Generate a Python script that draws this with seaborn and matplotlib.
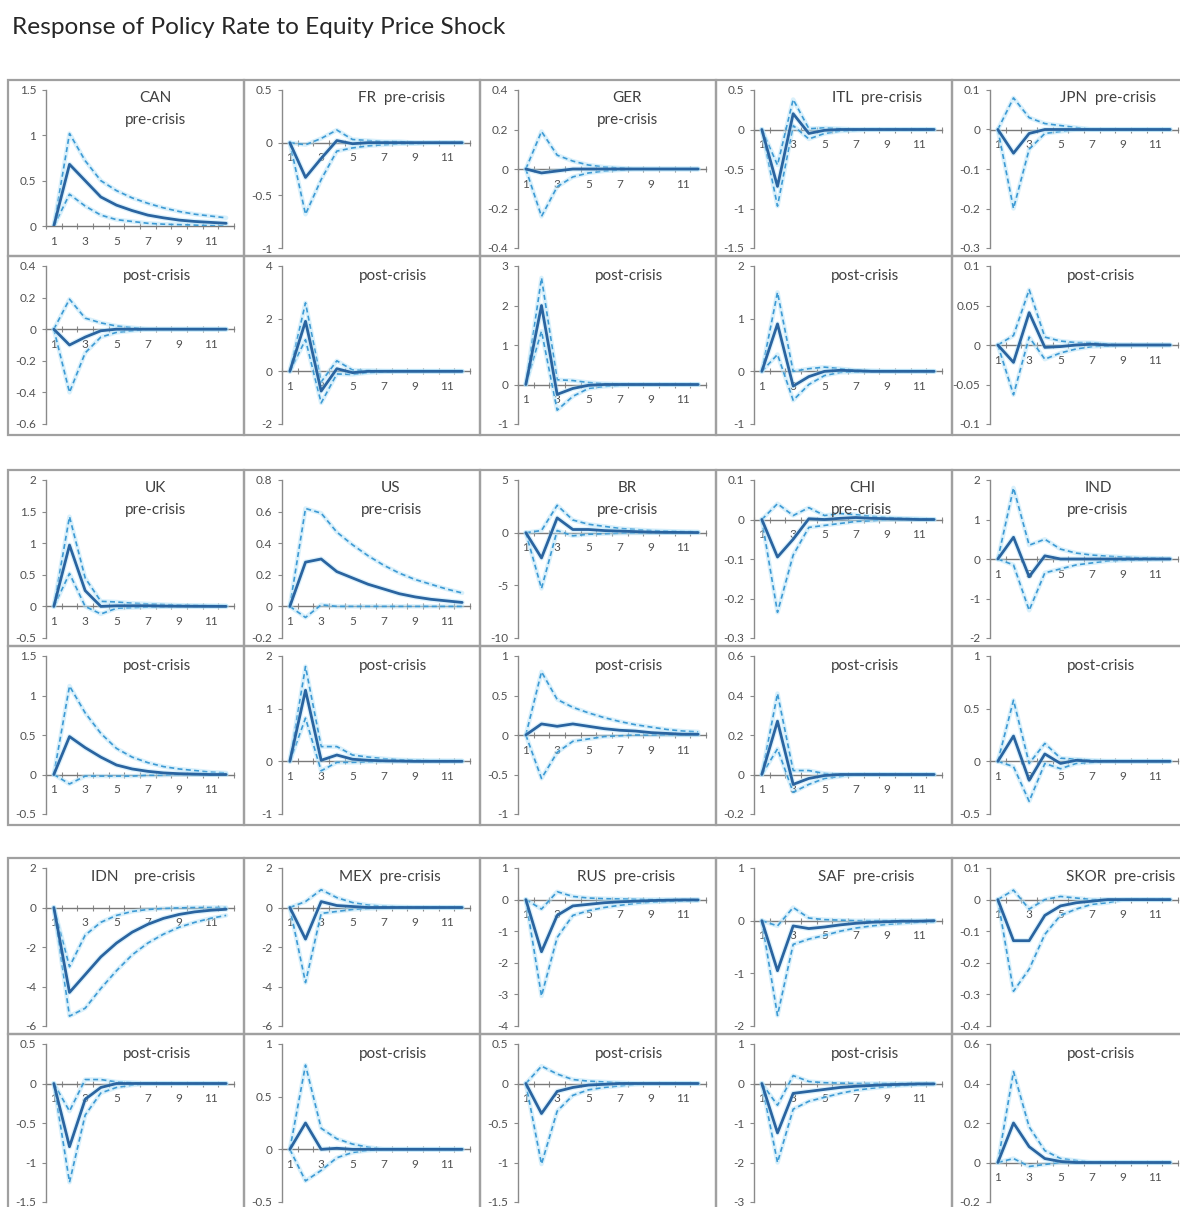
import matplotlib
matplotlib.use("Agg")
import matplotlib.pyplot as plt
import seaborn as sns
import pandas as pd
from matplotlib.patches import Rectangle
from matplotlib.ticker import FixedLocator, FuncFormatter

# ---------------------------------------------------------------------------
# Data: impulse responses of the policy rate (point estimate and bands)
# ---------------------------------------------------------------------------
periods = list(range(1, 13))
tick_periods = [1, 3, 5, 7, 9, 11]
tick_labels = ["1", "3", "5", "7", "9", "11"]

CAN_pre = dict(irf=[0, 0.68, 0.50, 0.32, 0.23, 0.17, 0.12, 0.09, 0.065, 0.05, 0.04, 0.03],
               lo=[0, 0.35, 0.22, 0.12, 0.07, 0.05, 0.03, 0.02, 0.015, 0.01, 0.005, 0.0],
               hi=[0, 1.02, 0.72, 0.50, 0.39, 0.31, 0.25, 0.20, 0.16, 0.13, 0.11, 0.09])
FR_pre = dict(irf=[0, -0.33, -0.15, 0.02, -0.01, 0, 0, 0, 0, 0, 0, 0],
              lo=[0, -0.68, -0.35, -0.08, -0.05, -0.03, -0.02, -0.01, -0.01, 0, 0, 0],
              hi=[0, -0.02, 0.04, 0.12, 0.03, 0.02, 0.01, 0.01, 0, 0, 0, 0])
GER_pre = dict(irf=[0, -0.02, -0.01, 0, 0, 0, 0, 0, 0, 0, 0, 0],
               lo=[0, -0.24, -0.09, -0.04, -0.02, -0.01, -0.005, 0, 0, 0, 0, 0],
               hi=[0, 0.19, 0.07, 0.04, 0.02, 0.01, 0.005, 0, 0, 0, 0, 0])
ITL_pre = dict(irf=[0, -0.72, 0.20, -0.05, -0.01, 0, 0, 0, 0, 0, 0, 0],
               lo=[0, -0.97, 0.05, -0.12, -0.05, -0.02, -0.01, 0, 0, 0, 0, 0],
               hi=[0, -0.45, 0.38, 0.01, 0.02, 0.01, 0, 0, 0, 0, 0, 0])
JPN_pre = dict(irf=[0, -0.06, -0.01, 0, 0, 0, 0, 0, 0, 0, 0, 0],
               lo=[0, -0.20, -0.05, -0.01, -0.005, 0, 0, 0, 0, 0, 0, 0],
               hi=[0, 0.08, 0.03, 0.015, 0.01, 0.005, 0, 0, 0, 0, 0, 0])

CAN_post = dict(irf=[0, -0.10, -0.05, -0.01, 0, 0, 0, 0, 0, 0, 0, 0],
                lo=[0, -0.40, -0.15, -0.05, -0.02, -0.01, 0, 0, 0, 0, 0, 0],
                hi=[0, 0.19, 0.07, 0.04, 0.02, 0.01, 0, 0, 0, 0, 0, 0])
FR_post = dict(irf=[0, 1.9, -0.75, 0.1, -0.05, 0, 0, 0, 0, 0, 0, 0],
               lo=[0, 1.2, -1.2, -0.1, -0.12, -0.05, -0.02, 0, 0, 0, 0, 0],
               hi=[0, 2.6, -0.4, 0.4, 0.05, 0.03, 0.01, 0, 0, 0, 0, 0])
GER_post = dict(irf=[0, 2.0, -0.25, -0.1, -0.02, 0, 0, 0, 0, 0, 0, 0],
                lo=[0, 1.35, -0.65, -0.3, -0.1, -0.05, -0.02, 0, 0, 0, 0, 0],
                hi=[0, 2.7, 0.12, 0.1, 0.05, 0.02, 0.01, 0, 0, 0, 0, 0])
ITL_post = dict(irf=[0, 0.9, -0.28, -0.1, 0.0, 0.02, 0.01, 0, 0, 0, 0, 0],
                lo=[0, 0.32, -0.55, -0.25, -0.08, -0.02, -0.01, 0, 0, 0, 0, 0],
                hi=[0, 1.5, 0.0, 0.05, 0.08, 0.05, 0.02, 0.01, 0, 0, 0, 0])
JPN_post = dict(irf=[0, -0.022, 0.041, -0.003, -0.002, 0, 0.001, 0, 0, 0, 0, 0],
                lo=[0, -0.063, 0.01, -0.018, -0.01, -0.005, -0.002, -0.001, 0, 0, 0, 0],
                hi=[0, 0.012, 0.07, 0.01, 0.005, 0.003, 0.003, 0.001, 0, 0, 0, 0])

UK_pre = dict(irf=[0, 0.97, 0.25, 0.0, 0.01, 0.01, 0.01, 0.005, 0.003, 0.002, 0.001, 0],
              lo=[0, 0.52, 0.0, -0.12, -0.03, -0.02, -0.01, -0.005, 0, 0, 0, 0],
              hi=[0, 1.42, 0.45, 0.08, 0.07, 0.05, 0.04, 0.03, 0.02, 0.015, 0.01, 0.01])
US_pre = dict(irf=[0, 0.28, 0.30, 0.22, 0.18, 0.14, 0.11, 0.08, 0.06, 0.045, 0.035, 0.025],
              lo=[0, -0.07, 0.01, 0.0, 0.0, 0, 0, 0, 0, 0, 0, 0],
              hi=[0, 0.62, 0.59, 0.47, 0.39, 0.32, 0.26, 0.21, 0.17, 0.14, 0.11, 0.085])
BR_pre = dict(irf=[0, -2.4, 1.4, 0.3, 0.3, 0.2, 0.15, 0.1, 0.05, 0.03, 0.02, 0.01],
              lo=[0, -5.3, 0.2, -0.3, -0.15, -0.1, -0.05, -0.03, -0.02, -0.01, 0, 0],
              hi=[0, 0.2, 2.6, 1.2, 0.8, 0.6, 0.4, 0.3, 0.2, 0.15, 0.1, 0.08])
CHI_pre = dict(irf=[0, -0.095, -0.05, 0.002, 0.0, 0.003, 0.005, 0.003, 0.002, 0.001, 0, 0],
               lo=[0, -0.235, -0.09, -0.02, -0.015, -0.01, -0.005, -0.003, 0, 0, 0, 0],
               hi=[0, 0.04, 0.01, 0.03, 0.01, 0.015, 0.012, 0.008, 0.005, 0.003, 0.002, 0])
IND_pre = dict(irf=[0, 0.55, -0.45, 0.08, 0.0, 0, 0, 0, 0, 0, 0, 0],
               lo=[0, -0.15, -1.3, -0.35, -0.25, -0.15, -0.1, -0.05, -0.03, -0.02, -0.01, 0],
               hi=[0, 1.8, 0.35, 0.5, 0.25, 0.15, 0.1, 0.07, 0.05, 0.03, 0.02, 0.01])

UK_post = dict(irf=[0, 0.48, 0.34, 0.22, 0.12, 0.07, 0.04, 0.02, 0.01, 0.005, 0, 0],
               lo=[0, -0.12, -0.02, -0.02, -0.02, -0.02, -0.01, -0.01, 0, 0, 0, 0],
               hi=[0, 1.12, 0.78, 0.52, 0.33, 0.22, 0.15, 0.1, 0.07, 0.05, 0.03, 0.02])
US_post = dict(irf=[0, 1.35, 0.02, 0.12, 0.04, 0.02, 0.01, 0.005, 0, 0, 0, 0],
               lo=[0, 0.82, -0.18, -0.02, -0.02, -0.01, 0, 0, 0, 0, 0, 0],
               hi=[0, 1.8, 0.28, 0.28, 0.12, 0.08, 0.05, 0.03, 0.02, 0.01, 0.01, 0.01])
BR_post = dict(irf=[0, 0.14, 0.11, 0.14, 0.11, 0.08, 0.06, 0.05, 0.03, 0.02, 0.01, 0.01],
               lo=[0, -0.55, -0.22, -0.08, -0.05, -0.02, -0.01, 0, 0, 0, 0, 0],
               hi=[0, 0.80, 0.45, 0.35, 0.28, 0.22, 0.17, 0.13, 0.10, 0.07, 0.05, 0.04])
CHI_post = dict(irf=[0, 0.27, -0.05, -0.02, -0.005, 0, 0, 0, 0, 0, 0, 0],
                lo=[0, 0.13, -0.09, -0.05, -0.02, -0.01, 0, 0, 0, 0, 0, 0],
                hi=[0, 0.41, 0.02, 0.02, 0.005, 0, 0, 0, 0, 0, 0, 0])
IND_post = dict(irf=[0, 0.24, -0.18, 0.07, -0.02, 0.01, 0, 0, 0, 0, 0, 0],
                lo=[0, -0.05, -0.38, -0.02, -0.07, -0.02, -0.01, 0, 0, 0, 0, 0],
                hi=[0, 0.58, -0.02, 0.17, 0.03, 0.02, 0.01, 0, 0, 0, 0, 0])

IDN_pre = dict(irf=[0, -4.3, -3.4, -2.5, -1.8, -1.25, -0.85, -0.55, -0.35, -0.22, -0.14, -0.09],
               lo=[0, -5.5, -5.1, -4.1, -3.2, -2.4, -1.8, -1.35, -1.0, -0.75, -0.55, -0.4],
               hi=[0, -3.0, -1.4, -0.75, -0.4, -0.2, -0.1, -0.05, -0.02, 0, 0, 0])
MEX_pre = dict(irf=[0, -1.6, 0.3, 0.1, 0.05, 0, 0, 0, 0, 0, 0, 0],
               lo=[0, -3.8, -0.3, -0.2, -0.1, -0.05, -0.02, 0, 0, 0, 0, 0],
               hi=[0, 0.3, 0.9, 0.5, 0.25, 0.12, 0.06, 0.03, 0.01, 0, 0, 0])
RUS_pre = dict(irf=[0, -1.65, -0.5, -0.2, -0.15, -0.1, -0.07, -0.05, -0.03, -0.02, -0.01, -0.01],
               lo=[0, -3.05, -1.2, -0.5, -0.35, -0.25, -0.18, -0.12, -0.08, -0.06, -0.04, -0.03],
               hi=[0, -0.3, 0.25, 0.1, 0.05, 0.03, 0.02, 0.01, 0, 0, 0, 0])
SAF_pre = dict(irf=[0, -0.95, -0.1, -0.15, -0.12, -0.08, -0.05, -0.03, -0.02, -0.01, -0.01, 0],
               lo=[0, -1.8, -0.45, -0.35, -0.28, -0.2, -0.14, -0.1, -0.07, -0.05, -0.03, -0.02],
               hi=[0, -0.1, 0.25, 0.05, 0.02, 0.01, 0, 0, 0, 0, 0, 0])
SKOR_pre = dict(irf=[0, -0.13, -0.13, -0.05, -0.02, -0.01, -0.005, 0, 0, 0, 0, 0],
                lo=[0, -0.29, -0.22, -0.11, -0.05, -0.03, -0.015, -0.01, 0, 0, 0, 0],
                hi=[0, 0.03, -0.03, 0.0, 0.01, 0.005, 0, 0, 0, 0, 0, 0])

IDN_post = dict(irf=[0, -0.8, -0.2, -0.05, 0, 0, 0, 0, 0, 0, 0, 0],
                lo=[0, -1.25, -0.4, -0.12, -0.05, -0.02, 0, 0, 0, 0, 0, 0],
                hi=[0, -0.35, 0.05, 0.05, 0.02, 0.01, 0, 0, 0, 0, 0, 0])
MEX_post = dict(irf=[0, 0.25, 0.0, 0.01, 0, 0, 0, 0, 0, 0, 0, 0],
                lo=[0, -0.3, -0.2, -0.08, -0.03, -0.01, 0, 0, 0, 0, 0, 0],
                hi=[0, 0.8, 0.2, 0.1, 0.05, 0.02, 0, 0, 0, 0, 0, 0])
RUS_post = dict(irf=[0, -0.38, -0.1, -0.05, -0.02, -0.01, 0, 0, 0, 0, 0, 0],
                lo=[0, -1.02, -0.35, -0.15, -0.08, -0.05, -0.03, -0.01, 0, 0, 0, 0],
                hi=[0, 0.22, 0.12, 0.05, 0.03, 0.02, 0.01, 0, 0, 0, 0, 0])
SAF_post = dict(irf=[0, -1.25, -0.25, -0.2, -0.15, -0.1, -0.07, -0.05, -0.03, -0.02, -0.01, -0.01],
                lo=[0, -2.0, -0.65, -0.45, -0.35, -0.25, -0.17, -0.12, -0.08, -0.05, -0.03, -0.02],
                hi=[0, -0.55, 0.2, 0.05, 0.02, 0.01, 0, 0, 0, 0, 0, 0])
SKOR_post = dict(irf=[0, 0.2, 0.08, 0.02, 0.005, 0, 0, 0, 0, 0, 0, 0],
                 lo=[0, 0.02, -0.02, -0.01, 0, 0, 0, 0, 0, 0, 0, 0],
                 hi=[0, 0.46, 0.18, 0.06, 0.02, 0.01, 0, 0, 0, 0, 0, 0])

# Panel grid: (series, (ymin, ymax, step), label lines, label x offset)
groups = [
    [
        [(CAN_pre, (0, 1.5, 0.5), ["CAN", "pre-crisis"], 147),
         (FR_pre, (-1, 0.5, 0.5), ["FR  pre-crisis"], 158),
         (GER_pre, (-0.4, 0.4, 0.2), ["GER", "pre-crisis"], 147),
         (ITL_pre, (-1.5, 0.5, 0.5), ["ITL  pre-crisis"], 161),
         (JPN_pre, (-0.3, 0.1, 0.1), ["JPN  pre-crisis"], 156)],
        [(CAN_post, (-0.6, 0.4, 0.2), ["post-crisis"], 149),
         (FR_post, (-2, 4, 2), ["post-crisis"], 149),
         (GER_post, (-1, 3, 1), ["post-crisis"], 149),
         (ITL_post, (-1, 2, 1), ["post-crisis"], 149),
         (JPN_post, (-0.1, 0.1, 0.05), ["post-crisis"], 149)],
    ],
    [
        [(UK_pre, (-0.5, 2, 0.5), ["UK", "pre-crisis"], 147),
         (US_pre, (-0.2, 0.8, 0.2), ["US", "pre-crisis"], 147),
         (BR_pre, (-10, 5, 5), ["BR", "pre-crisis"], 147),
         (CHI_pre, (-0.3, 0.1, 0.1), ["CHI", "pre-crisis"], 146),
         (IND_pre, (-2, 2, 1), ["IND", "pre-crisis"], 146)],
        [(UK_post, (-0.5, 1.5, 0.5), ["post-crisis"], 149),
         (US_post, (-1, 2, 1), ["post-crisis"], 149),
         (BR_post, (-1, 1, 0.5), ["post-crisis"], 149),
         (CHI_post, (-0.2, 0.6, 0.2), ["post-crisis"], 149),
         (IND_post, (-0.5, 1, 0.5), ["post-crisis"], 149)],
    ],
    [
        [(IDN_pre, (-6, 2, 2), ["IDN    pre-crisis"], 135),
         (MEX_pre, (-6, 2, 2), ["MEX  pre-crisis"], 146),
         (RUS_pre, (-4, 1, 1), ["RUS  pre-crisis"], 146),
         (SAF_pre, (-2, 1, 1), ["SAF  pre-crisis"], 150),
         (SKOR_pre, (-0.4, 0.1, 0.1), ["SKOR  pre-crisis"], 169)],
        [(IDN_post, (-1.5, 0.5, 0.5), ["post-crisis"], 149),
         (MEX_post, (-0.5, 1, 0.5), ["post-crisis"], 149),
         (RUS_post, (-1.5, 0.5, 0.5), ["post-crisis"], 149),
         (SAF_post, (-3, 1, 1), ["post-crisis"], 149),
         (SKOR_post, (-0.2, 0.6, 0.2), ["post-crisis"], 149)],
    ],
]

# ---------------------------------------------------------------------------
# Styling
# ---------------------------------------------------------------------------
sns.set_theme(style="white")
plt.rcParams["font.family"] = ["Lato", "DejaVu Sans"]
plt.rcParams["axes.unicode_minus"] = False

W, H = 1180, 1207
fig = plt.figure(figsize=(W / 100, H / 100), dpi=100)
fig.patch.set_facecolor("white")

BORDER = "#a0a0a0"
AXIS = "#8a8a8a"
TICKTXT = "#505050"
LABEL = "#404040"
MAIN = "#2a64a0"
BAND = "#3d9ad4"
GLOW = "#b4e2f8"

panel_lefts = [8, 244, 480, 716, 952]
panel_w = 236
group_tops = [80, 470, 858]
row_h = [176, 179]


def px_rect(x0, y0, x1, y1):
    """Figure-fraction rectangle from pixel corners (y measured from top)."""
    return [x0 / W, 1 - y1 / H, (x1 - x0) / W, (y1 - y0) / H]


def fmt(v, _pos=None):
    v = round(v, 6) + 0.0
    return f"{v:g}"


fig.text(12 / W, 1 - 28 / H, "Response of Policy Rate to Equity Price Shock",
         ha="left", va="center", fontsize=17.6, color="#262626")

for g, gtop in enumerate(group_tops):
    for r in range(2):
        ptop = gtop + (0 if r == 0 else row_h[0])
        pbot = ptop + row_h[r]
        for c, L in enumerate(panel_lefts):
            series, (ymin, ymax, step), label_lines, lx = groups[g][r][c]

            # panel frame
            fig.add_artist(Rectangle((L / W, 1 - pbot / H), panel_w / W, (pbot - ptop) / H,
                                     transform=fig.transFigure, fill=False,
                                     edgecolor=BORDER, linewidth=1.6, zorder=0))

            ax_top = ptop + 10
            ax_bot = ptop + (146 if ymin == 0 else 168)
            ax = fig.add_axes(px_rect(L + 38, ax_top, L + 226, ax_bot))
            ax.set_facecolor("none")

            df = pd.DataFrame({"period": periods, "irf": series["irf"],
                               "lo": series["lo"], "hi": series["hi"]})
            for col in ("lo", "hi"):
                sns.lineplot(data=df, x="period", y=col, ax=ax, color=GLOW,
                             linewidth=3.2, alpha=0.5, zorder=2)
                sns.lineplot(data=df, x="period", y=col, ax=ax, color=BAND,
                             linewidth=1.2, linestyle=(0, (3, 2)), zorder=3)
            sns.lineplot(data=df, x="period", y="irf", ax=ax, color=GLOW,
                         linewidth=3.8, alpha=0.45, zorder=4)
            sns.lineplot(data=df, x="period", y="irf", ax=ax, color=MAIN,
                         linewidth=2.0, zorder=5)

            ax.set_xlim(0.5, 12.5)
            ax.set_ylim(ymin, ymax)
            n = int(round((ymax - ymin) / step))
            ax.yaxis.set_major_locator(FixedLocator([ymin + i * step for i in range(n + 1)]))
            ax.yaxis.set_major_formatter(FuncFormatter(fmt))

            ax.xaxis.set_major_locator(FixedLocator(tick_periods))
            ax.set_xticklabels(tick_labels)
            ax.xaxis.set_minor_locator(FixedLocator([i + 0.5 for i in range(13)]))

            for s in ("top", "right"):
                ax.spines[s].set_visible(False)
            ax.spines["left"].set_color(AXIS)
            ax.spines["left"].set_linewidth(1.0)
            ax.spines["bottom"].set_position(("data", 0))
            ax.spines["bottom"].set_color("#7a7a7a")
            ax.spines["bottom"].set_linewidth(1.0)
            ax.spines["bottom"].set_zorder(1)

            ax.tick_params(axis="y", which="major", direction="out", length=3,
                           width=0.8, color=AXIS, labelsize=8.5, labelcolor=TICKTXT,
                           pad=4, left=True)
            ax.tick_params(axis="x", which="major", length=0, labelsize=8.5,
                           labelcolor=TICKTXT, pad=7, bottom=True)
            ax.tick_params(axis="x", which="minor", direction="inout", length=4,
                           width=0.8, color=AXIS, bottom=True)
            ax.set_xlabel("")
            ax.set_ylabel("")
            ax.grid(False)

            # panel labels
            if r == 0 and len(label_lines) == 2:
                fig.text((L + lx) / W, 1 - (ptop + 18) / H, label_lines[0],
                         ha="center", va="center", fontsize=11, color=LABEL)
                fig.text((L + lx) / W, 1 - (ptop + 40) / H, label_lines[1],
                         ha="center", va="center", fontsize=11, color=LABEL)
            else:
                ly = ptop + (18 if r == 0 else 20)
                if g == 2 and r == 0:
                    ly = ptop + 19
                fig.text((L + lx) / W, 1 - ly / H, label_lines[0],
                         ha="center", va="center", fontsize=11, color=LABEL)

fig.savefig("out.png", dpi=100, facecolor="white")
